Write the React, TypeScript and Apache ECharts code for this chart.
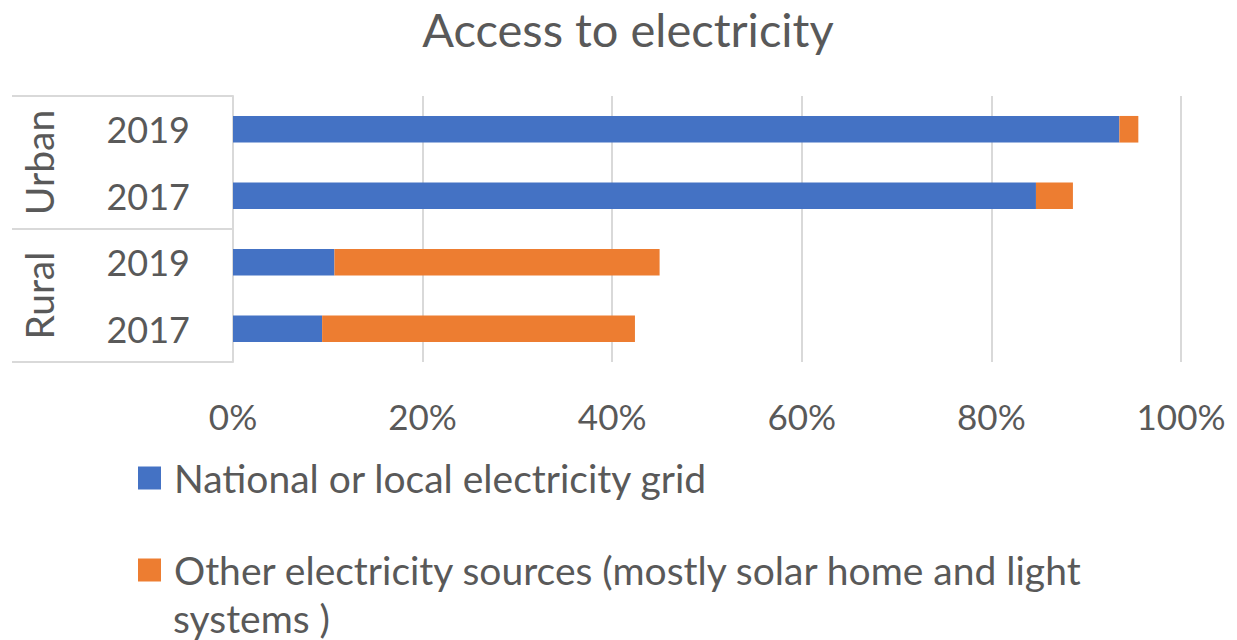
import React, { useEffect, useRef } from "react";
import * as echarts from "echarts";

const yearLabels = ["2017", "2019", "2017", "2019"];
const groupLabels = ["Rural", "Urban"];
const gridValues = [9.4, 10.7, 84.7, 93.5];
const otherValues = [33.0, 34.3, 3.9, 2.0];
const seriesNames = [
  "National or local electricity grid",
  "Other electricity sources (mostly solar home and light systems )",
];
const xTicks = { min: 0, max: 100, interval: 20 };

const FONT = "Lato";
const TEXT = "#595959";
const LINE = "#d9d9d9";

export default function App() {
  const ref = useRef<HTMLDivElement>(null);
  useEffect(() => {
    if (!ref.current) return;
    const chart = echarts.init(ref.current, undefined, { renderer: "svg" });
    chart.setOption({
      animation: false,
      backgroundColor: "#ffffff",
      title: {
        text: "Access to electricity",
        left: 628,
        top: 5,
        padding: 0,
        textAlign: "center",
        textStyle: { fontFamily: FONT, fontSize: 47, fontWeight: "normal", color: TEXT, lineHeight: 47 },
      },
      grid: { left: 233, right: 56, top: 96, bottom: 278, containLabel: false },
      xAxis: {
        type: "value",
        min: xTicks.min,
        max: xTicks.max,
        interval: xTicks.interval,
        axisLine: { show: false },
        axisTick: { show: false },
        splitLine: { lineStyle: { color: LINE, width: 2 } },
        axisLabel: {
          formatter: "{value}%",
          fontFamily: FONT,
          fontSize: 35,
          color: TEXT,
          margin: 36,
        },
      },
      yAxis: [
        {
          type: "category",
          data: yearLabels,
          axisLine: { show: true, lineStyle: { color: LINE, width: 2 } },
          axisTick: { show: false },
          axisLabel: { fontFamily: FONT, fontSize: 36, color: TEXT, margin: 43, interval: 0 },
        },
        {
          type: "category",
          data: groupLabels,
          position: "left",
          offset: 0,
          axisLine: { show: false },
          axisTick: { show: true, interval: 0, length: 221, lineStyle: { color: LINE, width: 2 } },
          axisLabel: {
            fontFamily: FONT,
            fontSize: 39,
            color: TEXT,
            rotate: 90,
            margin: 175,
            interval: 0,
            hideOverlap: false,
          },
        },
      ],
      legend: {
        orient: "vertical",
        left: 138,
        top: 455,
        padding: 0,
        itemWidth: 23,
        itemHeight: 23,
        itemGap: 46,
        icon: "rect",
        data: seriesNames,
        formatter: (name: string) =>
          name === seriesNames[1] ? "Other electricity sources (mostly solar home and light" : name,
        textStyle: { fontFamily: FONT, fontSize: 39, color: TEXT, lineHeight: 46, padding: [0, 0, 0, 8] },
      },
      graphic: [
        {
          type: "text",
          left: 173,
          top: 598,
          style: { text: "systems )", fontFamily: FONT, fontSize: 39, fill: TEXT },
        },
      ],
      series: [
        {
          name: seriesNames[0],
          type: "bar",
          stack: "total",
          data: gridValues,
          barCategoryGap: "60%",
          itemStyle: { color: "#4472C4" },
        },
        {
          name: seriesNames[1],
          type: "bar",
          stack: "total",
          data: otherValues,
          barCategoryGap: "60%",
          itemStyle: { color: "#ED7D31" },
        },
      ],
    });
    return () => chart.dispose();
  }, []);
  return <div ref={ref} style={{ position: "absolute", left: 0, top: 0, width: 1237, height: 640 }} />;
}
